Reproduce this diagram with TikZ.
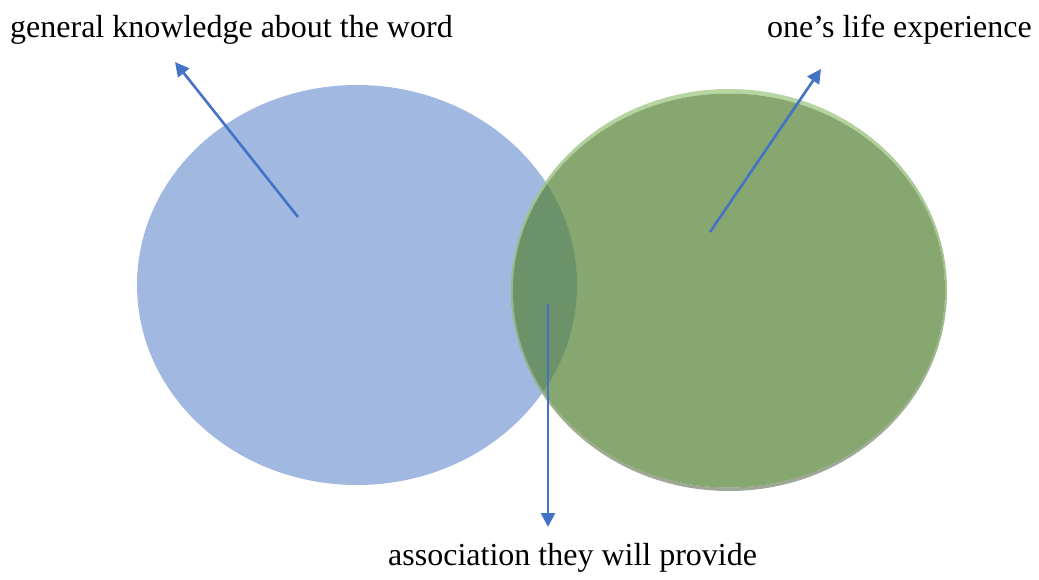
\documentclass[tikz,border=0pt]{standalone}
\usepackage{fontspec}
\setmainfont{Liberation Serif}
\usetikzlibrary{arrows.meta}
\definecolor{accblue}{RGB}{68,114,196}
\definecolor{accgreen}{RGB}{84,130,53}
\definecolor{rimlight}{RGB}{176,210,152}
\definecolor{rimmid}{RGB}{150,185,128}
\definecolor{rimgray}{RGB}{148,156,138}
\tikzset{
  pointer/.style={draw=accblue, line width=2.6pt, -{Triangle[length=14pt,width=14pt]}},
  label/.style={font=\fontsize{32}{38}\selectfont, inner sep=0pt},
}
\begin{document}
\begin{tikzpicture}[x=1pt,y=-1pt]
\useasboundingbox (0,0) rectangle (1039,579);
% blue circle
\fill[accblue, opacity=0.5] (357,285) ellipse [x radius=220, y radius=200];
% green rim
\begin{scope}[even odd rule]
  \clip (729,290) ellipse [x radius=218, y radius=201]
        (729,290.5) ellipse [x radius=216, y radius=197];
  \shade[top color=rimlight, bottom color=rimgray, middle color=rimmid, opacity=0.9]
     (505,85) rectangle (950,495);
\end{scope}
% green circle
\fill[accgreen, opacity=0.7] (729,290.5) ellipse [x radius=216, y radius=197];
% arrows
\coordinate (s1) at (298,217);
\coordinate (e1) at (175,62);
\coordinate (s2) at (710,232);
\coordinate (e2) at (821,69);
\coordinate (s3) at (548,304);
\coordinate (e3) at (548,527);
\draw[pointer] (s1) -- (e1);
\draw[pointer] (s2) -- (e2);
\draw[pointer] (s3) -- (e3);
% texts
\node[label, anchor=base west] (t1) at (10,37) {general knowledge about the word};
\node[label, anchor=base east] (t2) at (1032,37) {one’s life experience};
\node[label, anchor=base west] (t3) at (388,565) {association they will provide};
\end{tikzpicture}
\end{document}
